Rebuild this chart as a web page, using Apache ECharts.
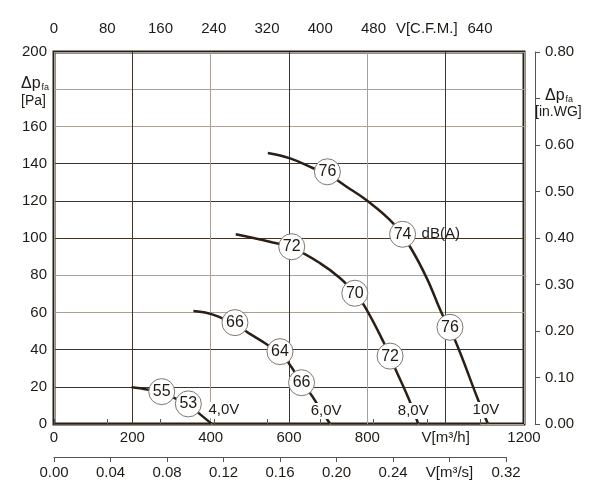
<!DOCTYPE html>
<html>
<head>
<meta charset="utf-8">
<script src="https://cdn.jsdelivr.net/npm/echarts@6/dist/echarts.min.js"></script>
<style>
  html, body { margin: 0; padding: 0; background: #fff; }
  #chart { width: 600px; height: 500px; }
</style>
</head>
<body>
<div id="chart"></div>
<script>
// fan curves, flow in m3/h, pressure in Pa
const curve4V = [[198, 19.7], [237, 18.6], [275, 17.2], [309, 13.8], [343, 10.6], [368, 6.1], [403, 0]];
const curve6V = [[356, 60.8], [386, 59.9], [420, 57.7], [462, 53.5], [496, 49], [539, 43.4], [577, 37.5],
  [598, 33], [632, 22.2], [654, 16.5], [671, 11.1], [705, 0]];
const curve8V = [[464, 102], [551, 98], [607, 94.8], [679, 86.5], [730, 78.5], [768, 70.3], [794, 63],
  [841, 44.2], [871, 29.9], [907, 12.9], [930, 0]];
const curve10V = [[546, 145.7], [603, 142.8], [662, 137.5], [698, 134.5], [747, 127.6], [800, 120],
  [866, 107.9], [909, 95.3], [952, 78.3], [990, 59.5], [1024, 45], [1083, 12.9], [1108, 0]];

// noise level marks: flow, pressure, dB(A)
const db4V = [[275, 17.4, 55], [343, 10.8, 53]];
const db6V = [[462, 54.5, 66], [577, 38.9, 64], [632, 22.2, 66]];
const db8V = [[607, 95.3, 72], [768, 70.3, 70], [858, 36.5, 72]];
const db10V = [[698, 135.6, 76], [890, 102, 74], [1011, 52, 76]];

const voltNames = ['4,0V', '6,0V', '8,0V', '10V'];
const curves = [curve4V, curve6V, curve8V, curve10V];
const voltOffsets = [[12, -14], [-4, -13], [-5, -13], [-2, -14]];

const dark = '#2b1f15';
const txt = '#1e1a16';
const font = "'Liberation Sans', Arial, sans-serif";

const chart = echarts.init(document.getElementById('chart'));

// lines
const lineSeries = curves.map((c, i) => ({
    type: 'line',
    name: voltNames[i],
    xAxisIndex: 0,
    yAxisIndex: 0,
    data: c,
    smooth: 0.4,
    symbol: 'none',
    z: 3,
    lineStyle: { color: dark, width: 2.5 },
    silent: true
}));

// voltage labels at curve ends
const voltData = curves.map((c, i) => ({
    value: c[c.length - 1],
    name: voltNames[i],
    label: { offset: voltOffsets[i] }
}));

const dbData = [].concat(db4V, db6V, db8V, db10V);

const plainLabel = {
    fontSize: 15, color: txt, fontFamily: font, opacity: 1,
    textBorderWidth: 0, textShadowBlur: 0
};

const option = {
    backgroundColor: '#fff',
    animation: false,
    textStyle: { fontFamily: font, color: txt },
    grid: [
        { left: 54, top: 52, width: 470, height: 372, show: true, borderColor: dark, borderWidth: 3,
          backgroundColor: 'transparent', outerBoundsMode: 'none', containLabel: false },
        { left: 54, top: 52, width: 426, height: 372, outerBoundsMode: 'none', containLabel: false },
        { left: 54, top: 52, width: 452, height: 405, outerBoundsMode: 'none', containLabel: false }
    ],
    xAxis: [
        {
            gridIndex: 0, type: 'value', min: 0, max: 1200, interval: 200,
            axisLine: { show: false }, axisTick: { show: false },
            axisLabel: { fontSize: 15, color: txt, margin: 6, showMinLabel: true, showMaxLabel: true,
                formatter: v => v === 1000 ? 'V[m³/h]' : String(v) },
            splitLine: { show: true, lineStyle: { width: 1,
                color: ['#a8a199', '#3e342a', '#a8a199', '#3e342a', '#a8a199', '#3e342a', '#a8a199'] } }
        },
        {
            gridIndex: 1, type: 'value', position: 'top', min: 0, max: 640, interval: 80, offset: 10,
            axisLine: { show: true, lineStyle: { color: '#5a524a', width: 1 } },
            axisTick: { show: true, length: 5, lineStyle: { color: '#5a524a' } },
            axisLabel: { fontSize: 15, color: txt, margin: 6, showMinLabel: true, showMaxLabel: true,
                formatter: v => v === 560 ? 'V[C.F.M.]' : String(v) },
            splitLine: { show: false }
        },
        {
            gridIndex: 2, type: 'value', position: 'bottom', min: 0, max: 0.32, interval: 0.04,
            axisLine: { show: true, lineStyle: { color: '#5a524a', width: 1 } },
            axisTick: { show: true, length: 5, lineStyle: { color: '#5a524a' } },
            axisLabel: { fontSize: 15, color: txt, margin: 8, showMinLabel: true, showMaxLabel: true,
                formatter: v => Math.abs(v - 0.28) < 1e-6 ? 'V[m³/s]' : v.toFixed(2) },
            splitLine: { show: false }
        }
    ],
    yAxis: [
        {
            gridIndex: 0, type: 'value', min: 0, max: 200, interval: 20,
            axisLine: { show: false }, axisTick: { show: false },
            axisLabel: { fontSize: 15, color: txt, margin: 7,
                formatter: v => v === 180 ? '' : String(v) },
            splitLine: { show: true, lineStyle: { width: 1,
                color: ['#a8a199', '#3e342a', '#3e342a', '#a8a199', '#a8a199', '#3e342a', '#3e342a',
                        '#3e342a', '#a8a199', '#a8a199', '#a8a199'] } }
        },
        {
            gridIndex: 0, type: 'value', position: 'right', min: 0, max: 0.8, interval: 0.1, offset: 11,
            axisLine: { show: true, lineStyle: { color: '#5a524a', width: 1 } },
            axisTick: { show: true, length: 5, lineStyle: { color: '#5a524a' } },
            axisLabel: { fontSize: 15, color: txt, margin: 10,
                formatter: v => Math.abs(v - 0.7) < 1e-6 ? '' : v.toFixed(2) },
            splitLine: { show: false }
        },
        { gridIndex: 1, type: 'value', show: false, min: 0, max: 1 },
        { gridIndex: 2, type: 'value', show: false, min: 0, max: 1 }
    ],
    graphic: [
        { type: 'text', left: 21, top: 76, silent: true,
          style: { text: '{a|Δp}{b|fa}', fill: txt,
                   rich: { a: { fontSize: 16, fontFamily: font, fill: txt },
                           b: { fontSize: 9, fontFamily: font, fill: txt, verticalAlign: 'bottom', padding: [6, 0, 0, 1] } } } },
        { type: 'text', left: 21, top: 94, silent: true,
          style: { text: '[Pa]', fontSize: 14, fontFamily: font, fill: txt } },
        { type: 'text', left: 545, top: 88, silent: true,
          style: { text: '{a|Δp}{b|fa}', fill: txt,
                   rich: { a: { fontSize: 16, fontFamily: font, fill: txt },
                           b: { fontSize: 9, fontFamily: font, fill: txt, verticalAlign: 'bottom', padding: [6, 0, 0, 1] } } } },
        { type: 'text', left: 535, top: 105, silent: true,
          style: { text: '[in.WG]', fontSize: 14, fontFamily: font, fill: txt } }
    ],
    series: lineSeries.concat([
        {
            type: 'scatter',
            name: 'volt',
            xAxisIndex: 0, yAxisIndex: 0,
            data: voltData,
            symbolSize: 1,
            itemStyle: { color: '#fff', opacity: 1 },
            z: 4,
            silent: true,
            label: Object.assign({
                show: true, position: 'inside', formatter: p => p.name,
                backgroundColor: '#fff', padding: [1, 2, 0, 2]
            }, plainLabel)
        },
        {
            type: 'scatter',
            name: 'unit',
            xAxisIndex: 0, yAxisIndex: 0,
            data: [db10V[1]],
            symbol: 'circle',
            symbolSize: 26,
            itemStyle: { color: '#fff', opacity: 1 },
            z: 4,
            silent: true,
            label: Object.assign({
                show: true, position: 'right', distance: 6, formatter: 'dB(A)'
            }, plainLabel)
        },
        {
            type: 'scatter',
            name: 'dB',
            xAxisIndex: 0, yAxisIndex: 0,
            data: dbData,
            symbol: 'circle',
            symbolSize: 26,
            z: 5,
            silent: true,
            itemStyle: { color: '#fff', borderColor: '#7d7770', borderWidth: 1, opacity: 1 },
            label: Object.assign({}, plainLabel, {
                show: true, position: 'inside', formatter: p => String(p.value[2]), fontSize: 16
            })
        }
    ])
};

chart.setOption(option);
window.addEventListener('resize', () => chart.resize());
</script>
</body>
</html>
